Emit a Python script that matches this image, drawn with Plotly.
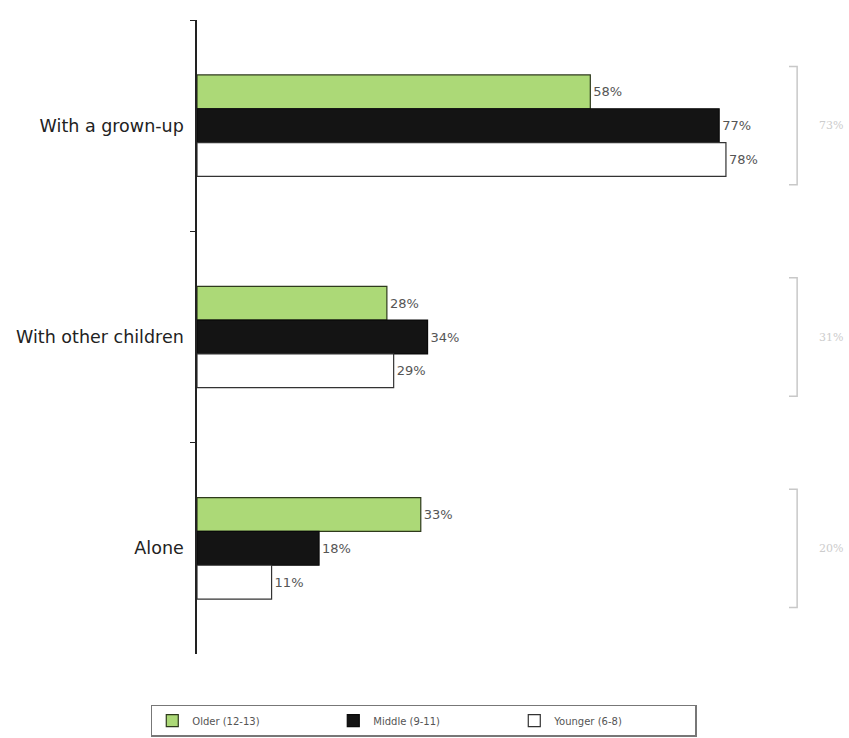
import plotly.graph_objects as go

# Who children play with, by age group (percent)
categories = ["With a grown-up", "With other children", "Alone"]
older = [58, 28, 33]
middle = [77, 34, 18]
younger = [78, 29, 11]
series_names = ["Older (12-13)", "Middle (9-11)", "Younger (6-8)"]
totals = ["73%", "31%", "20%"]

fills = ["#acd977", "#141414", "#ffffff"]
edges = ["#2e3a1c", "#0a0a0a", "#333333"]

fig = go.Figure()
for name, vals, fc, ec in zip(series_names, [older, middle, younger], fills, edges):
    fig.add_trace(go.Bar(
        y=categories, x=vals, name=name, orientation="h",
        marker=dict(color=fc, line=dict(color=ec, width=1.2)),
        text=[f"{v}%" for v in vals], textposition="outside",
        textfont=dict(family="DejaVu Sans", size=13, color="#555555"),
        cliponaxis=False,
    ))

# faint group-total brackets on the right
for i, t in enumerate(totals):
    y0, y1 = i - 0.28, i + 0.28
    fig.add_shape(type="path", xref="x", yref="y",
                  path=f"M 87.3 {y0} L 88.5 {y0} L 88.5 {y1} L 87.3 {y1}",
                  line=dict(color="#c8c8c8", width=1.5))
    fig.add_annotation(x=93.5, y=i, xref="x", yref="y", text=t, showarrow=False,
                       font=dict(family="DejaVu Serif", size=11, color="#cccccc"))

fig.update_layout(
    width=849, height=738,
    margin=dict(l=197, r=1, t=20, b=82),
    paper_bgcolor="white", plot_bgcolor="white",
    barmode="group", bargap=0.52, bargroupgap=0,
    showlegend=True,
    legend=dict(orientation="h", x=-0.071, y=-0.08, xanchor="left", yanchor="top",
                bordercolor="#777777", borderwidth=1.5,
                entrywidth=136, entrywidthmode="pixels",
                font=dict(family="DejaVu Sans", size=10, color="#555555"),
                traceorder="normal"),
    xaxis=dict(range=[0, 96], showgrid=False, zeroline=False, showticklabels=False,
               showline=False, ticks=""),
    yaxis=dict(autorange="reversed", showline=True, linecolor="#222222", linewidth=1.5,
               ticks="outside", ticklen=5, tickcolor="#222222", tickson="boundaries",
               showgrid=False,
               tickfont=dict(family="DejaVu Sans", size=17.5, color="#222222"),
               ticklabelstandoff=8),
)

fig.write_html("out.html")
